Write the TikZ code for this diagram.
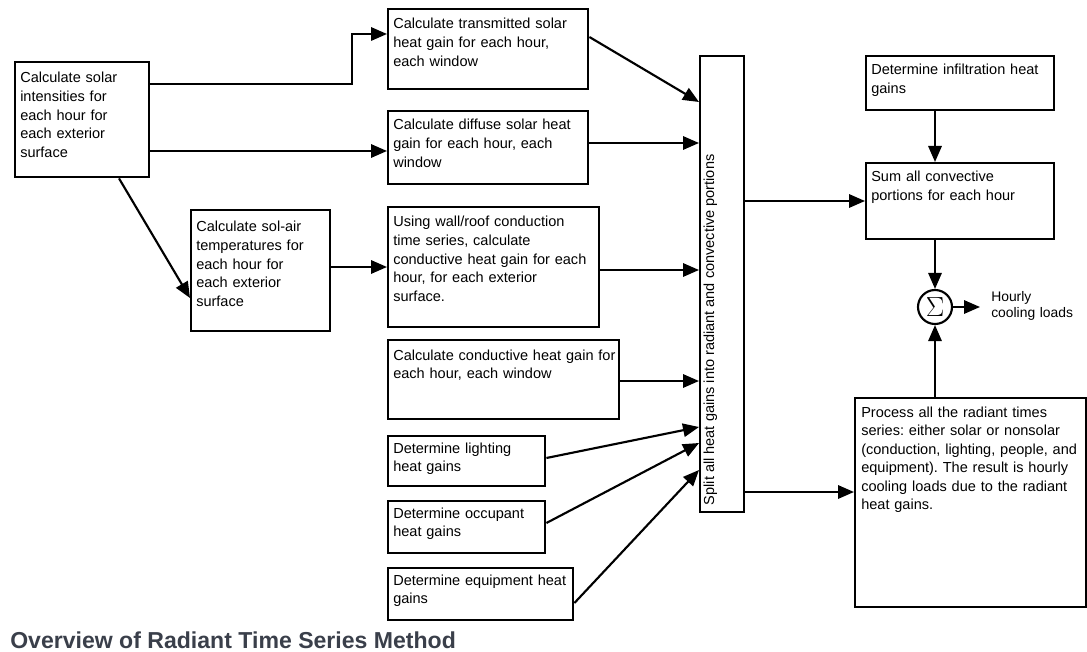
\documentclass[tikz,border=0pt]{standalone}
\usepackage{fontspec}
\setmainfont{Liberation Sans}
\usepackage{graphicx}
\usetikzlibrary{arrows.meta}
\definecolor{titlegrey}{RGB}{58,63,74}
\newcommand{\boxfont}{\fontsize{10.9pt}{13.9pt}\selectfont}
\frenchspacing

\begin{document}
\begin{tikzpicture}[x=0.75pt,y=-0.75pt,
    gainbox/.style={draw,line width=1.8pt,anchor=north west,inner sep=0pt},
    boxtext/.style={anchor=base west,align=left,inner sep=0pt,text width=260pt,font=\boxfont},
    flow/.style={line width=1.6pt,-{Triangle[length=12pt,width=10pt]}}]
    \useasboundingbox (0,0) rectangle (1087,652);
    \node[gainbox,minimum width=100.5pt,minimum height=86.25pt] (solar) at (14,61) {};
    \node[boxtext] (solartext) at ([shift={(6,22)}]solar.north west) {Calculate solar\\intensities for\\each hour for\\each exterior\\surface};
    \node[gainbox,minimum width=104.25pt,minimum height=90.75pt] (solair) at (190,209) {};
    \node[boxtext] (solairtext) at ([shift={(6,23)}]solair.north west) {Calculate sol-air\\temperatures for\\each hour for\\each exterior\\surface};
    \node[gainbox,minimum width=150pt,minimum height=60pt] (trans) at (387,8) {};
    \node[boxtext] (transtext) at ([shift={(6,21)}]trans.north west) {Calculate transmitted solar\\heat gain for each hour,\\each window};
    \node[gainbox,minimum width=150pt,minimum height=54.75pt] (diffuse) at (387,110) {};
    \node[boxtext] (diffusetext) at ([shift={(6,20)}]diffuse.north west) {Calculate diffuse solar heat\\gain for each hour, each\\window};
    \node[gainbox,minimum width=158.25pt,minimum height=90pt] (wall) at (387,206) {};
    \node[boxtext] (walltext) at ([shift={(6,21)}]wall.north west) {Using wall/roof conduction\\time series, calculate\\conductive heat gain for each\\hour, for each exterior\\surface.};
    \node[gainbox,minimum width=173.25pt,minimum height=59.25pt] (condwin) at (387,339) {};
    \node[boxtext] (condwintext) at ([shift={(6,21)}]condwin.north west) {Calculate conductive heat gain for\\each hour, each window};
    \node[gainbox,minimum width=117.75pt,minimum height=37.5pt] (light) at (387,435) {};
    \node[boxtext] (lighttext) at ([shift={(6,18)}]light.north west) {Determine lighting\\heat gains};
    \node[gainbox,minimum width=117.75pt,minimum height=39pt] (occup) at (387,500) {};
    \node[boxtext] (occuptext) at ([shift={(6,18)}]occup.north west) {Determine occupant\\heat gains};
    \node[gainbox,minimum width=138.75pt,minimum height=39pt] (equip) at (387,567) {};
    \node[boxtext] (equiptext) at ([shift={(6,18)}]equip.north west) {Determine equipment heat\\gains};
    \node[gainbox,minimum width=33pt,minimum height=342pt] (split) at (699,55) {};
    \node[rotate=90,anchor=base west,inner sep=0pt,font=\boxfont] (splittext) at ([shift={(15,-8)}]split.south west) {Split all heat gains into radiant and convective portions};
    \node[gainbox,minimum width=141pt,minimum height=40.5pt] (infil) at (865,55) {};
    \node[boxtext] (infiltext) at ([shift={(6,20)}]infil.north west) {Determine infiltration heat\\gains};
    \node[gainbox,minimum width=141pt,minimum height=57pt] (sumconv) at (865,162) {};
    \node[boxtext] (sumconvtext) at ([shift={(6,20)}]sumconv.north west) {Sum all convective\\portions for each hour};
    \node[gainbox,minimum width=173.25pt,minimum height=156.75pt] (radiant) at (854,397) {};
    \node[boxtext] (radianttext) at ([shift={(7,20)}]radiant.north west) {Process all the radiant times\\series: either solar or nonsolar\\(conduction, lighting, people, and\\equipment). The result is hourly\\cooling loads due to the radiant\\heat gains.};
    \node[draw,circle,line width=1.6pt,minimum size=25.5pt,inner sep=0pt,font=\fontsize{21pt}{21pt}\selectfont] (sigma) at (935,307) {$\Sigma$};
    \node[boxtext,font=\fontsize{10.4pt}{12pt}\selectfont] (hourly) at (991,301) {Hourly\\cooling loads};
    \coordinate (hourlyin) at (980,307);
    \node[anchor=base west,inner sep=0pt,text=titlegrey,font=\bfseries\fontsize{17.3pt}{20pt}\selectfont] (title) at (10,648) {Overview of Radiant Time Series Method};
    \draw[flow] (solar.east |- 0,84) -| (352,34) -- (trans.west |- 0,34);
    \draw[flow] (solar.east |- 0,151) -- (diffuse.west |- 0,151);
    \draw[flow] (solar.south -| 119,0) -- (solair.west |- 0,298);
    \draw[flow] (solair.east |- 0,267) -- (wall.west |- 0,267);
    \draw[flow] (trans.east |- 0,37) -- (split.west |- 0,102);
    \draw[flow] (diffuse.east |- 0,143) -- (split.west |- 0,143);
    \draw[flow] (wall.east |- 0,270) -- (split.west |- 0,270);
    \draw[flow] (condwin.east |- 0,381) -- (split.west |- 0,381);
    \draw[flow] (light.east |- 0,458) -- (split.west |- 0,427);
    \draw[flow] (occup.east |- 0,523) -- (split.west |- 0,443);
    \draw[flow] (equip.east |- 0,603) -- (split.west |- 0,470);
    \draw[flow] (split.east |- 0,201) -- (sumconv.west |- 0,201);
    \draw[flow] (split.east |- 0,492) -- (radiant.west |- 0,492);
    \draw[flow] (infil.south -| sigma) -- (sumconv.north -| sigma);
    \draw[flow] (sumconv.south -| sigma) -- (sigma.north);
    \draw[flow] (radiant.north -| sigma) -- (sigma.south);
    \draw[flow] (sigma.east) -- (hourlyin);
\end{tikzpicture}
\end{document}
